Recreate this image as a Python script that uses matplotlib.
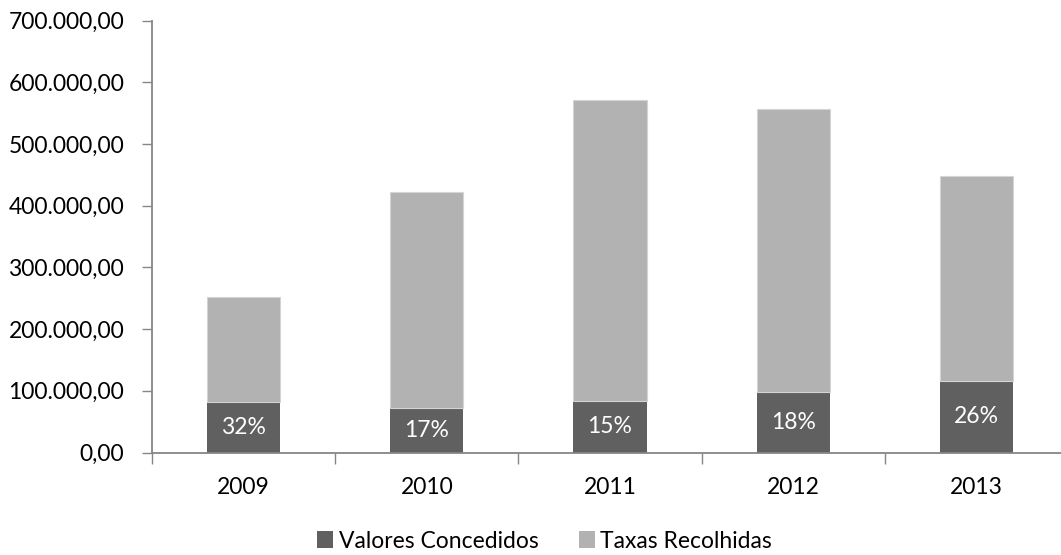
import matplotlib
matplotlib.use("Agg")
import matplotlib.pyplot as plt
from matplotlib.ticker import FuncFormatter, FixedLocator
import numpy as np

plt.rcParams['font.family'] = ['Lato', 'DejaVu Sans']

anos = ["2009", "2010", "2011", "2012", "2013"]
valores_concedidos = [81400, 72600, 83500, 98100, 115400]
taxas_recolhidas = [171200, 350200, 487400, 458200, 333300]
rotulos_pct = ["32%", "17%", "15%", "18%", "26%"]
y_ticks = [0, 100000, 200000, 300000, 400000, 500000, 600000, 700000]

COR_ESCURA = "#606060"
COR_CLARA = "#b2b2b2"
COR_EIXO = "#868686"
FS = 16.5

W, H = 1061, 555
fig = plt.figure(figsize=(W / 100, H / 100), dpi=100)
left, zero_y, top_y, cat_w = 152, 452.5, 20.7, 183.2
ax = fig.add_axes([left / W, (H - zero_y) / H, 5 * cat_w / W, (zero_y - top_y) / H])

x = np.arange(len(anos))
bw = 0.4
ax.bar(x, valores_concedidos, width=bw, color=COR_ESCURA, linewidth=0,
       label="Valores Concedidos", zorder=2)
ax.bar(x, taxas_recolhidas, width=bw, bottom=valores_concedidos, color=COR_CLARA,
       edgecolor="#d4d4d4", linewidth=0.8, label="Taxas Recolhidas", zorder=2)

for xi, v, t in zip(x, valores_concedidos, rotulos_pct):
    ax.text(xi, v / 2, t, ha="center", va="center", color="white", fontsize=FS)

ax.set_xlim(-0.5, len(anos) - 0.5)
ax.set_ylim(0, 700000)
ax.yaxis.set_major_locator(FixedLocator(y_ticks))


def fmt_br(v, pos):
    s = f"{v:,.2f}"
    return s.replace(",", "X").replace(".", ",").replace("X", ".")


ax.yaxis.set_major_formatter(FuncFormatter(fmt_br))

ax.set_xticks(np.arange(-0.5, len(anos), 1.0))
ax.set_xticklabels([])
ax.set_xticks(x, minor=True)
ax.set_xticklabels(anos, minor=True)
ax.tick_params(axis="x", which="major", length=8, width=1, color=COR_EIXO, direction="out")
ax.tick_params(axis="x", which="minor", length=0, pad=18, labelsize=FS, labelcolor="black")
ax.tick_params(axis="y", length=7, width=1, color=COR_EIXO, direction="out", pad=13,
               labelsize=FS, labelcolor="black")

for s in ["top", "right"]:
    ax.spines[s].set_visible(False)
for s in ["left", "bottom"]:
    ax.spines[s].set_color(COR_EIXO)
    ax.spines[s].set_linewidth(1.3)

leg = fig.legend(loc="center", bbox_to_anchor=(544.5 / W, 1 - 541 / H), ncol=2,
                 frameon=False, fontsize=FS, handlelength=0.7, handleheight=0.7,
                 handletextpad=0.25, columnspacing=1.75, borderaxespad=0)
for h in leg.legend_handles:
    h.set_edgecolor("none")

fig.savefig("out.png", dpi=100)
